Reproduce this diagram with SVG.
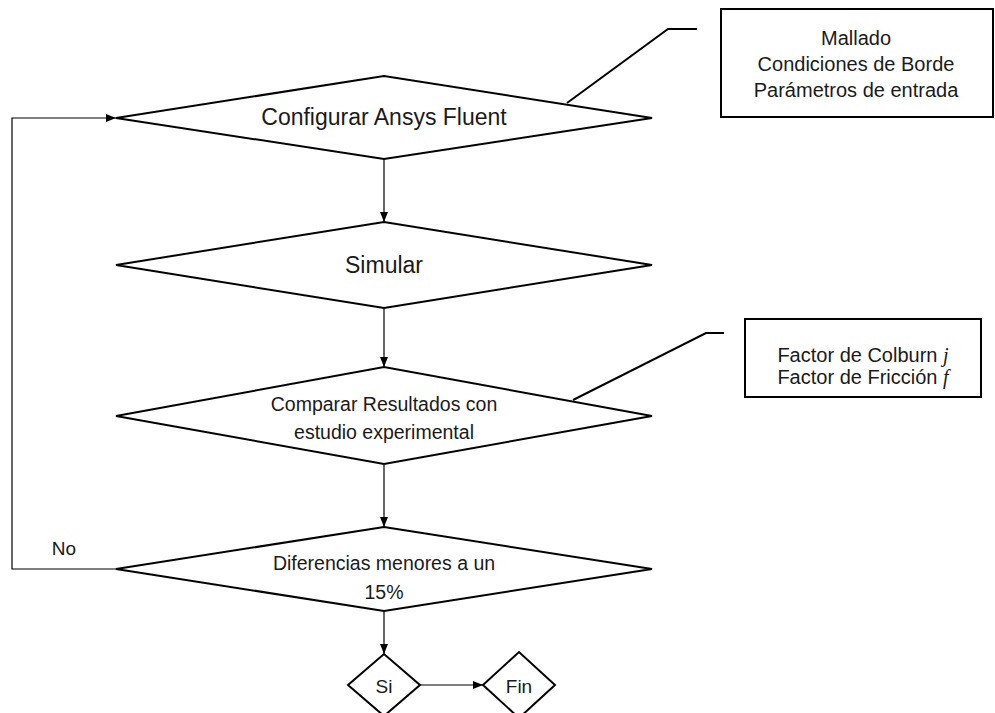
<svg xmlns="http://www.w3.org/2000/svg" width="995" height="713" viewBox="0 0 995 713">
<defs>
<marker id="ah" markerWidth="10" markerHeight="8" refX="10" refY="4" orient="auto" markerUnits="userSpaceOnUse">
<path d="M0,0 L10,4 L0,8 Z" fill="#000"/>
</marker>
<style>
.shape{fill:#fff;stroke:#000;stroke-width:2}
.conn{fill:none;stroke:#000;stroke-width:1.2}
.call{fill:none;stroke:#000;stroke-width:2}
text{font-family:"Liberation Sans",Arial,sans-serif;fill:#1a1a1a;text-anchor:middle;dominant-baseline:central}
.big{font-size:23px}
.mid{font-size:19.5px}
.box{font-size:20px}
.sm{font-size:19px}
.math{font-family:"Liberation Serif","Times New Roman",serif;font-style:italic}
</style>
</defs>
<rect width="995" height="713" fill="#fff"/>
<g id="connectors">
<path class="conn" d="M384 159 V222" marker-end="url(#ah)"/>
<path class="conn" d="M384 308 V367" marker-end="url(#ah)"/>
<path class="conn" d="M384 464 V527" marker-end="url(#ah)"/>
<path class="conn" d="M384 611 V654" marker-end="url(#ah)"/>
<path class="conn" d="M420 685 H483" marker-end="url(#ah)"/>
<path class="conn" d="M116 569 H12 V118 H116" marker-end="url(#ah)"/>
<path class="call" d="M567 103 L668 29 H697"/>
<path class="call" d="M573 400 L706 333 H724"/>
</g>
<g id="n1">
<polygon class="shape" points="116,118 384,76 652,118 384,159"/>
<text class="big" x="384" y="117">Configurar Ansys Fluent</text>
</g>
<g id="n2">
<polygon class="shape" points="116,265 384,222 652,265 384,308"/>
<text class="big" x="384" y="265">Simular</text>
</g>
<g id="n3">
<polygon class="shape" points="116,416 384,367 652,416 384,464"/>
<text class="mid" x="384" y="404">Comparar Resultados con</text>
<text class="mid" x="384" y="432">estudio experimental</text>
</g>
<g id="n4">
<polygon class="shape" points="116,569 384,527 652,569 384,611"/>
<text class="mid" x="384" y="563">Diferencias menores a un</text>
<text class="mid" x="384" y="592">15%</text>
</g>
<g id="n5">
<polygon class="shape" points="348,685 384,654 420,685 384,716"/>
<text class="sm" x="384" y="686">Si</text>
</g>
<g id="n6">
<polygon class="shape" points="483,685 519,652 555,685 519,718"/>
<text class="sm" x="519" y="686">Fin</text>
</g>
<g id="box1">
<rect class="shape" x="721" y="9" width="272" height="108"/>
<text class="box" x="856" y="38">Mallado</text>
<text class="box" x="856" y="64">Condiciones de Borde</text>
<text class="box" x="856" y="90">Parámetros de entrada</text>
</g>
<g id="box2">
<rect class="shape" x="745" y="319" width="236" height="78"/>
<text class="box" x="863" y="355">Factor de Colburn <tspan class="math">j</tspan></text>
<text class="box" x="863" y="377">Factor de Fricción <tspan class="math">f</tspan></text>
</g>
<g id="label-no">
<text class="sm" x="64" y="548">No</text>
</g>
</svg>
